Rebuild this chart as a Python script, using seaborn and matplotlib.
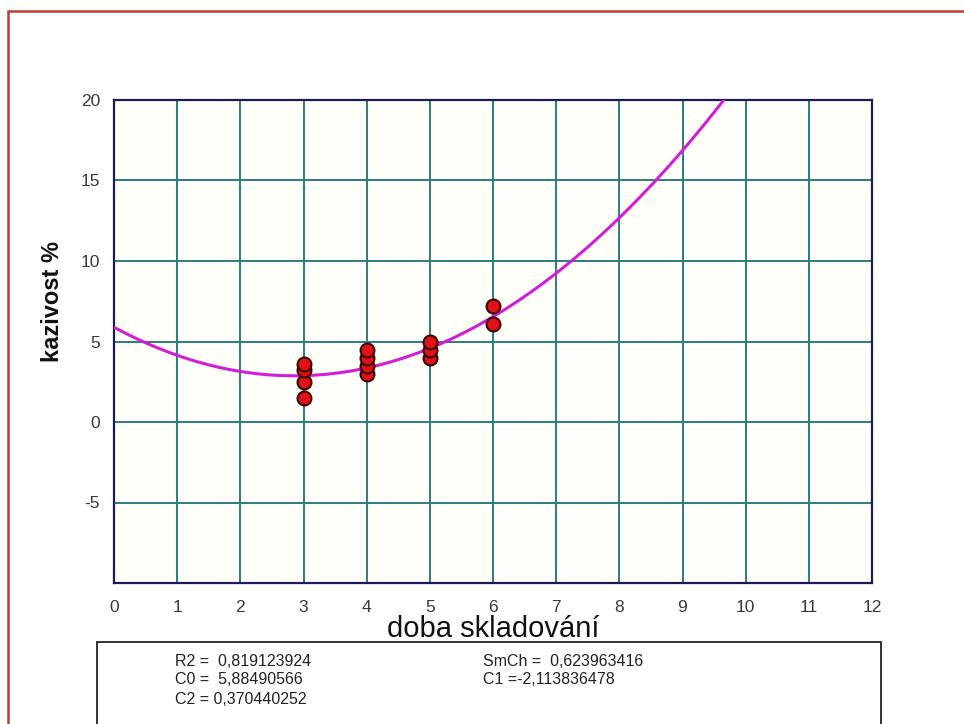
import numpy as np
import pandas as pd
import matplotlib
matplotlib.use("Agg")
import matplotlib.pyplot as plt
from matplotlib.patches import Rectangle
import seaborn as sns

# measured storage time (x) and defect rate in percent (y)
doba = [3, 3, 3, 3, 4, 4, 4, 4, 5, 5, 5, 6, 6]
kazivost = [1.5, 2.5, 3.2, 3.6, 3.0, 3.5, 4.0, 4.5, 4.0, 4.5, 5.0, 6.1, 7.2]

# quadratic regression results
R2 = "0,819123924"
SmCh = "0,623963416"
C0 = 5.88490566
C1 = -2.113836478
C2 = 0.370440252
C0_txt = "5,88490566"
C1_txt = "-2,113836478"
C2_txt = "0,370440252"

x_ticks = list(range(0, 13))
y_ticks = [-5, 0, 5, 10, 15, 20]

sns.set_theme(style="white")
plt.rcParams["font.family"] = ["Liberation Sans", "DejaVu Sans"]
plt.rcParams["axes.unicode_minus"] = False

W, H = 964, 724
fig = plt.figure(figsize=(W / 100, H / 100), dpi=100)
fig.patch.set_facecolor("white")

# page frame
fig.patches.append(Rectangle((8 / W, -0.05), 1.2, 1 - 11 / H + 0.05,
                             transform=fig.transFigure, fill=False,
                             edgecolor="#b8403a", linewidth=1.8))

left, right, top, bottom = 114, 872, 100, 583
ax = fig.add_axes([left / W, 1 - bottom / H, (right - left) / W, (bottom - top) / H])
ax.set_facecolor("#fffffa")

# fitted parabola
xs = np.linspace(0, 12, 400)
ys = C0 + C1 * xs + C2 * xs ** 2
curve = pd.DataFrame({"x": xs, "y": ys})
sns.lineplot(data=curve, x="x", y="y", ax=ax, color="#d21ed6", linewidth=2.2, zorder=3)

pts = pd.DataFrame({"doba": doba, "kazivost": kazivost})
sns.scatterplot(data=pts, x="doba", y="kazivost", ax=ax, color="#e01218",
                edgecolor="#3a0606", linewidth=1.5, s=100, zorder=4)

ax.set_xlim(0, 12)
ax.set_ylim(-10, 20)
ax.set_xticks(x_ticks)
ax.set_yticks(y_ticks)
ax.grid(True, color="#2f7a7e", linewidth=1.4)
ax.set_axisbelow(True)
for sp in ax.spines.values():
    sp.set_color("#1c1c50")
    sp.set_linewidth(1.6)
ax.tick_params(axis="both", length=0, labelsize=12.5, colors="#3a3a3a")
ax.tick_params(axis="x", pad=12)
ax.tick_params(axis="y", pad=10)

ax.set_xlabel("doba skladování", fontsize=21, color="#111111", labelpad=0)
ax.set_ylabel("kazivost %", fontsize=17, fontweight="bold", color="#111111")
ax.yaxis.set_label_coords(-0.066, 0.582)

# statistics box
bx0, bx1, by0 = 97, 881, 642
fig.patches.append(Rectangle((bx0 / W, -0.05), (bx1 - bx0) / W, 1 - by0 / H + 0.05,
                             transform=fig.transFigure, fill=False,
                             edgecolor="#222222", linewidth=1.3))
rows = [
    (175, 661, f"R2 =  {R2}"),
    (175, 680, f"C0 =  {C0_txt}"),
    (175, 699, f"C2 = {C2_txt}"),
    (483, 661, f"SmCh =  {SmCh}"),
    (483, 680, f"C1 ={C1_txt}"),
]
for tx, ty, s in rows:
    fig.text(tx / W, 1 - ty / H, s, fontsize=11.5, color="#222222", va="center", ha="left")

fig.savefig("out.png", dpi=100)
